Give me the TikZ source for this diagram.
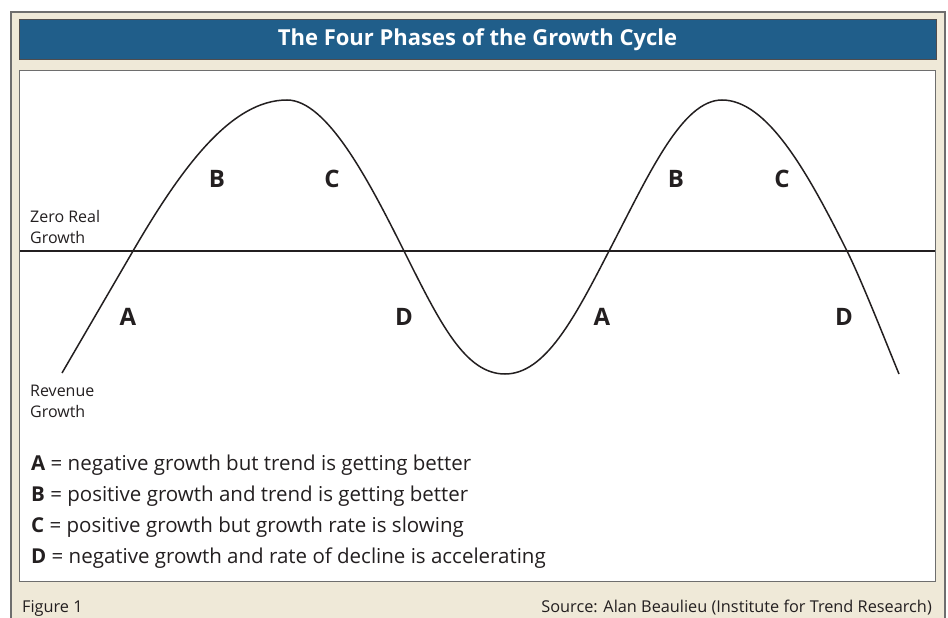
\documentclass[tikz,border=0pt]{standalone}
\usepackage{fontspec}
\setmainfont{Open Sans}
\definecolor{beige}{RGB}{239,233,216}
\definecolor{titleblue}{RGB}{32,94,138}
\definecolor{ink}{RGB}{35,31,32}
\definecolor{framegray}{RGB}{110,110,110}
\begin{document}
\begin{tikzpicture}[x=1pt,y=-1pt,
  outerframe/.style={draw=framegray,line width=1.4pt,fill=beige},
  titlebar/.style={draw=ink!80,line width=1pt,fill=titleblue},
  panel/.style={draw=framegray,line width=1pt,fill=white},
  titletext/.style={text=white,font=\fontsize{22}{26}\selectfont\bfseries,inner sep=0pt},
  phase/.style={text=ink,font=\fontsize{24}{28}\selectfont\bfseries,inner sep=0pt},
  axislabel/.style={text=ink,font=\fontsize{16}{21}\selectfont,inner sep=0pt,anchor=base west},
  legend/.style={text=ink,font=\fontsize{20.5}{24}\selectfont,inner sep=0pt,anchor=base west},
  foot/.style={text=ink,font=\fontsize{16.3}{19}\selectfont,inner sep=0pt},
  curve/.style={draw=ink,line width=1.5pt},
  zeroline/.style={draw=ink,line width=1.1pt}
]
\useasboundingbox (0,0) rectangle (948,618);
\fill[white] (0,0) rectangle (948,618);
\path[outerframe] (11,12) rectangle (945,650);
\path[titlebar] (19,20) rectangle (936,60);
\node[titletext] (title) at (477.5,40) {The Four Phases of the Growth Cycle};
\path[panel] (19,71) rectangle (935,581);
% zero line
\coordinate (zl) at (20,251);
\coordinate (zr) at (935,251);
\draw[zeroline] (zl) -- (zr);
% curve key points
\coordinate (s) at (62,373);
\coordinate (x1) at (133,251);
\coordinate (p1) at (287,100);
\coordinate (x2) at (404,251);
\coordinate (t1) at (505,374);
\coordinate (x3) at (609,251);
\coordinate (p2) at (722,100);
\coordinate (x4) at (847,251);
\coordinate (e) at (899,374);
\draw[curve] (s) -- (x1)
  .. controls (183,165) and (232,100) .. (p1)
  .. controls (327,100) and (369,181) .. (x2)
  .. controls (440,323) and (465,374) .. (t1)
  .. controls (545,374) and (574,319) .. (x3)
  .. controls (649,174) and (682,100) .. (p2)
  .. controls (767,100) and (807,171) .. (x4)
  .. controls (862,281) and (889,350) .. (e);
% phase labels
\node[phase] (b1) at (217,179) {B};
\node[phase] (c1) at (332,179) {C};
\node[phase] (b2) at (676,179) {B};
\node[phase] (c2) at (782,179) {C};
\node[phase] (a1) at (128,317) {A};
\node[phase] (d1) at (404,317) {D};
\node[phase] (a2) at (602,317) {A};
\node[phase] (d2) at (844,317) {D};
% axis labels
\node[axislabel] (zr1) at (30,222) {Zero Real};
\node[axislabel] (zr2) at (30,243) {Growth};
\node[axislabel] (rg1) at (30,396) {Revenue};
\node[axislabel] (rg2) at (30,417) {Growth};
% legend
\node[legend] (la) at (31,470) {\textbf{A} = negative growth but trend is getting better};
\node[legend] (lb) at (31,501) {\textbf{B} = positive growth and trend is getting better};
\node[legend] (lc) at (31,532) {\textbf{C} = positive growth but growth rate is slowing};
\node[legend] (ld) at (31,563) {\textbf{D} = negative growth and rate of decline is accelerating};
% footer
\node[foot,anchor=base west] (fig) at (22,612) {Figure 1};
\node[foot,anchor=base east] (src) at (932,612) {Source: Alan Beaulieu (Institute for Trend Research)};
\end{tikzpicture}
\end{document}
